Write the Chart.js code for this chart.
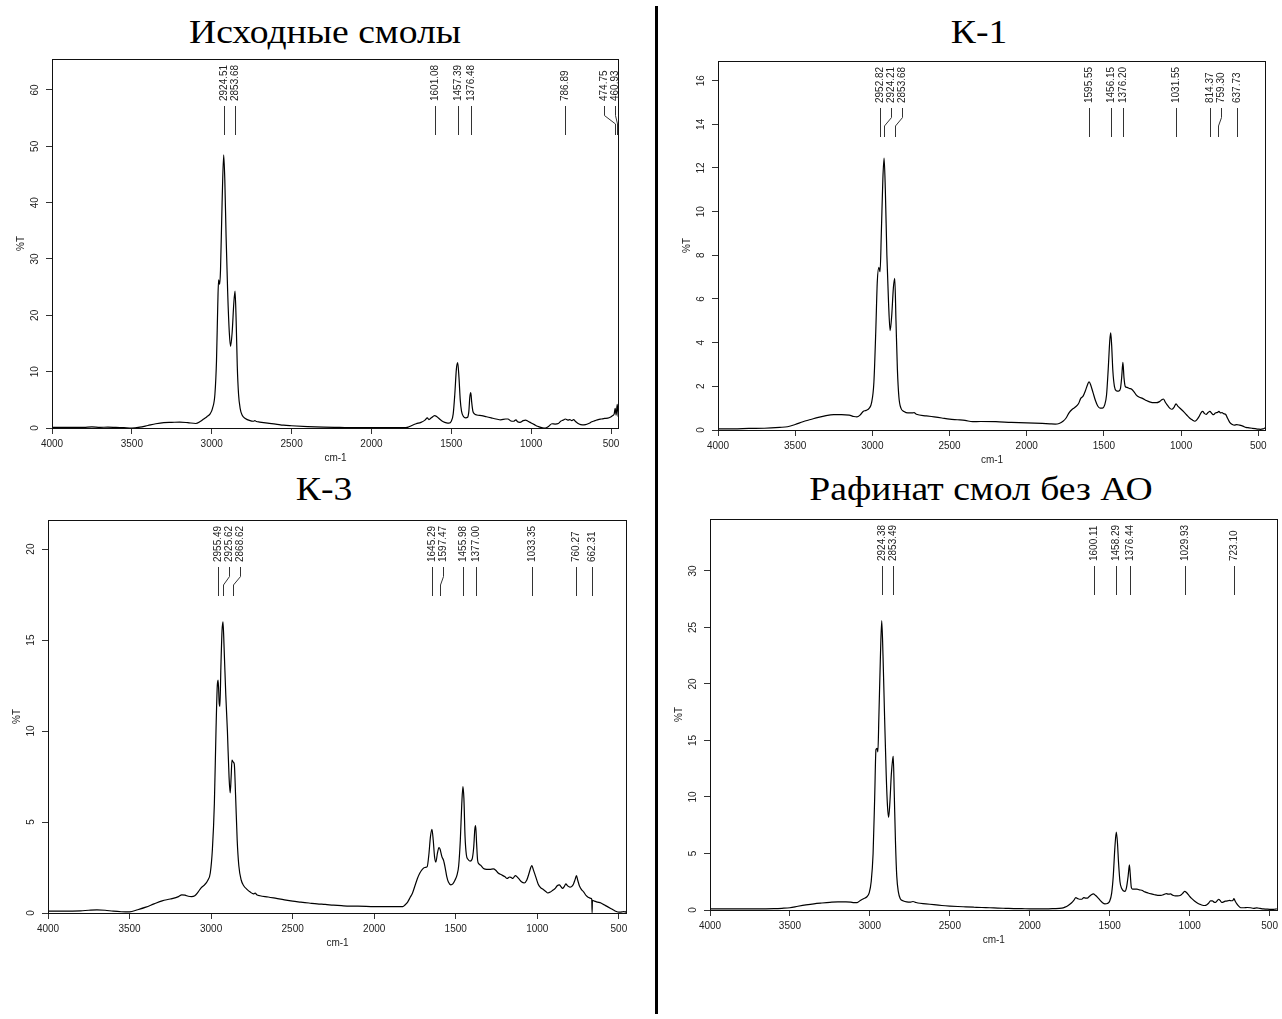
<!DOCTYPE html>
<html><head><meta charset="utf-8">
<script src="https://cdn.jsdelivr.net/npm/chart.js@4.4.1/dist/chart.umd.min.js"></script>
<style>
html,body{margin:0;padding:0;background:#fff;}
body{width:1282px;height:1019px;position:relative;overflow:hidden;}
.title{position:absolute;width:600px;text-align:center;font-family:'Liberation Serif','Times New Roman',serif;font-size:33px;line-height:33px;color:#000;white-space:nowrap;transform:scaleX(1.14);transform-origin:50% 50%;}
canvas{position:absolute;}
#divider{position:absolute;left:655px;top:6px;width:3px;height:1008px;background:#000;z-index:5;}
</style></head><body>
<div class="title" id="t1">Исходные смолы</div>
<div class="title" id="t2">К-1</div>
<div class="title" id="t3">К-3</div>
<div class="title" id="t4">Рафинат смол без АО</div>
<div id="divider"></div>
<canvas id="c1"></canvas><canvas id="c2"></canvas><canvas id="c3"></canvas><canvas id="c4"></canvas>
<script>
// ---------- DATA ----------
const xTicks = [4000, 3500, 3000, 2500, 2000, 1500, 1000, 500];

const yTicks1 = [0, 10, 20, 30, 40, 50, 60];
const yTicks2 = [0, 2, 4, 6, 8, 10, 12, 14, 16];
const yTicks3 = [0, 5, 10, 15, 20];
const yTicks4 = [0, 5, 10, 15, 20, 25, 30];

const titles = ['Исходные смолы', 'К-1', 'К-3', 'Рафинат смол без АО'];

const peaks1 = [2924.51, 2853.68, 1601.08, 1457.39, 1376.48, 786.89, 474.75, 460.93];
const peaks2 = [2952.82, 2924.21, 2853.68, 1595.55, 1456.15, 1376.20, 1031.55, 814.37, 759.30, 637.73];
const peaks3 = [2955.49, 2925.62, 2868.62, 1645.29, 1597.47, 1455.98, 1377.00, 1033.35, 760.27, 662.31];
const peaks4 = [2924.38, 2853.49, 1600.11, 1458.29, 1376.44, 1029.93, 723.10];

// Исходные смолы
const wn1 = [4000,3900,3800,3750,3700,3650,3600,3550,3500,3450,3400,3350,3300,3250,3200,3150,3100,3070,3050,3030,3010,2995,2980,2970,2962,2957,2950,2945,2935,2925,2918,2910,2900,2890,2882,2872,2862,2854,2847,2840,2832,2822,2810,2790,2760,2740,2730,2720,2700,2650,2600,2550,2500,2400,2300,2200,2100,2000,1900,1800,1770,1750,1720,1690,1665,1650,1640,1625,1605,1590,1570,1550,1530,1515,1500,1488,1478,1468,1460,1452,1444,1436,1425,1410,1398,1390,1384,1378,1372,1365,1355,1340,1310,1280,1250,1220,1190,1160,1145,1130,1110,1095,1085,1070,1050,1035,1020,1000,980,960,940,920,905,890,870,850,830,815,800,786,770,758,745,735,720,700,680,660,640,620,600,580,560,540,520,505,490,480,474,468,461,455];
const tr1 = [0.1,0.1,0.12,0.2,0.12,0.15,0.1,0.05,0.0,0.15,0.45,0.75,0.95,1.0,1.05,0.95,0.8,1.2,1.6,2.0,2.5,3.5,6,12,22,26.3,25.5,28,40,48.5,44,34,24,17,14.5,17,22,24.3,19,11,6,3.5,2.3,1.7,1.3,1.2,1.3,1.15,1.05,0.85,0.7,0.5,0.4,0.25,0.15,0.1,0.05,0.05,0.05,0.05,0.15,0.4,0.75,1.0,1.4,1.8,1.5,1.8,2.2,2.0,1.5,1.1,0.9,0.85,1.2,2.5,6,10.5,11.6,9,5,3,2.1,1.8,1.9,3,5.5,6.3,4.5,3,2.5,2.3,2.2,2.0,1.8,1.6,1.45,1.6,1.6,1.3,1.2,1.45,1.1,1.0,1.3,1.4,1.2,0.9,0.6,0.3,0.1,0.0,0.05,0.3,0.75,0.7,0.8,1.2,1.4,1.6,1.4,1.5,1.3,1.5,1.1,0.7,0.55,0.6,0.8,1.1,1.3,1.5,1.6,1.7,1.75,1.9,2.2,2.5,3.5,2.3,4.2,2.0];

// К-1
const wn2 = [4000,3900,3800,3700,3600,3550,3500,3450,3400,3350,3300,3250,3200,3150,3120,3100,3080,3060,3040,3020,3005,2990,2978,2968,2958,2950,2942,2932,2924,2916,2906,2895,2885,2875,2864,2855,2847,2838,2828,2815,2795,2770,2740,2730,2715,2650,2600,2550,2500,2450,2400,2350,2300,2200,2100,2000,1900,1850,1815,1790,1765,1745,1725,1705,1685,1665,1650,1635,1620,1605,1596,1585,1570,1555,1540,1525,1510,1495,1483,1472,1462,1456,1450,1442,1432,1420,1405,1393,1385,1377,1370,1362,1350,1335,1320,1305,1290,1270,1250,1225,1200,1180,1160,1140,1125,1115,1100,1085,1070,1060,1045,1033,1020,1000,985,965,945,925,912,900,885,870,860,848,838,825,814,800,790,778,765,755,745,735,725,712,700,685,668,655,640,620,600,580,560,540,520,500,485,470,460,455];
const tr2 = [0.05,0.05,0.07,0.08,0.12,0.15,0.25,0.38,0.48,0.58,0.66,0.7,0.7,0.68,0.62,0.6,0.68,0.85,0.9,1.0,1.25,2.2,4.5,6.8,7.45,7.25,9,11.5,12.45,11,8,5.8,4.55,5.2,6.5,6.95,5,2.8,1.5,1.0,0.85,0.78,0.78,0.8,0.72,0.65,0.6,0.55,0.5,0.47,0.44,0.38,0.39,0.38,0.35,0.33,0.3,0.28,0.27,0.3,0.4,0.55,0.8,0.95,1.05,1.2,1.45,1.55,1.8,2.1,2.2,2.05,1.7,1.35,1.1,1.0,1.0,1.15,1.6,2.8,4.1,4.45,3.9,2.7,2.0,1.8,1.78,1.9,2.4,3.1,2.4,2.0,1.95,1.9,1.87,1.75,1.6,1.5,1.45,1.35,1.28,1.25,1.25,1.3,1.38,1.42,1.25,1.1,0.98,0.95,1.05,1.2,1.08,0.95,0.85,0.7,0.55,0.45,0.4,0.45,0.6,0.8,0.85,0.75,0.72,0.8,0.85,0.75,0.7,0.78,0.8,0.85,0.78,0.8,0.75,0.72,0.55,0.35,0.25,0.22,0.25,0.22,0.18,0.12,0.1,0.08,0.06,0.04,0.03,0.05,0.08,0.1];

// К-3
const wn3 = [4000,3900,3800,3750,3700,3650,3600,3550,3500,3450,3400,3350,3300,3250,3200,3180,3160,3140,3120,3100,3080,3060,3040,3020,3005,2992,2980,2970,2962,2957,2950,2946,2940,2933,2927,2920,2910,2900,2890,2883,2877,2872,2865,2858,2850,2840,2830,2815,2800,2780,2760,2740,2730,2720,2700,2650,2600,2550,2500,2450,2400,2350,2300,2250,2200,2150,2100,2000,1900,1850,1825,1810,1795,1780,1765,1750,1735,1720,1705,1690,1675,1665,1655,1646,1638,1630,1622,1612,1603,1596,1585,1575,1565,1555,1545,1530,1518,1505,1492,1482,1472,1463,1456,1450,1443,1435,1425,1412,1400,1390,1383,1378,1372,1366,1358,1345,1330,1310,1290,1270,1255,1240,1220,1200,1185,1170,1160,1150,1135,1125,1110,1095,1080,1065,1050,1040,1033,1025,1010,995,980,965,950,935,920,905,890,878,865,855,845,835,825,815,800,790,778,768,760,752,742,730,715,700,685,672,666,664,662,650,630,610,590,570,550,530,515,500,480,470,460,455];
const tr3 = [0.1,0.1,0.12,0.15,0.17,0.15,0.1,0.07,0.06,0.18,0.32,0.5,0.67,0.77,0.9,1.0,0.98,0.92,0.9,0.95,1.15,1.4,1.55,1.8,2.2,3.5,6,10,12.5,12.8,11.5,11.35,13.5,15.5,16.0,14.5,12,10,7.5,6.6,7.5,8.4,8.3,8.2,6.5,4,2.6,1.8,1.5,1.3,1.15,1.05,1.1,1.0,0.95,0.88,0.8,0.72,0.65,0.6,0.55,0.5,0.47,0.43,0.4,0.38,0.38,0.35,0.35,0.35,0.35,0.45,0.6,0.85,1.1,1.5,1.9,2.2,2.4,2.5,2.55,3.2,4.2,4.6,4.0,3.1,2.8,3.3,3.6,3.5,3.1,2.9,2.5,2.0,1.7,1.55,1.6,1.8,2.1,2.6,4,6,6.95,6.3,4.2,3.2,2.95,2.85,2.95,3.6,4.6,4.8,3.8,2.9,2.7,2.6,2.45,2.4,2.4,2.42,2.35,2.2,2.1,2.0,1.9,1.98,1.95,1.9,2.05,2.0,1.85,1.7,1.65,1.8,2.2,2.5,2.6,2.4,2.0,1.6,1.4,1.3,1.2,1.1,1.15,1.25,1.35,1.5,1.55,1.45,1.35,1.45,1.6,1.5,1.42,1.45,1.6,1.85,2.05,1.8,1.5,1.3,1.15,0.95,0.85,0.8,0.75,0.02,0.7,0.65,0.6,0.55,0.45,0.35,0.25,0.15,0.08,0.05,0.06,0.08,0.05,0.1];

// Рафинат смол без АО
const wn4 = [4000,3900,3800,3700,3600,3550,3500,3450,3400,3350,3300,3250,3200,3150,3120,3100,3080,3060,3040,3020,3005,2992,2980,2970,2962,2955,2950,2944,2935,2926,2918,2908,2898,2890,2883,2875,2866,2858,2854,2848,2840,2832,2822,2810,2790,2770,2745,2730,2715,2700,2650,2600,2550,2500,2450,2400,2350,2300,2250,2200,2150,2100,2050,2000,1950,1900,1850,1800,1780,1760,1740,1725,1712,1700,1690,1675,1662,1650,1640,1628,1615,1602,1590,1575,1560,1545,1530,1515,1500,1488,1478,1468,1459,1452,1445,1436,1425,1415,1405,1395,1385,1377,1372,1365,1358,1345,1330,1315,1300,1280,1260,1240,1220,1200,1180,1160,1145,1135,1120,1105,1090,1075,1060,1045,1032,1020,1005,990,970,950,935,920,905,895,882,870,858,848,838,826,818,810,800,790,778,765,752,740,730,723,716,705,692,680,660,640,620,600,580,560,540,520,500,480,465,455];
const tr4 = [0.1,0.1,0.1,0.1,0.12,0.15,0.2,0.33,0.45,0.55,0.62,0.68,0.72,0.72,0.7,0.65,0.65,0.85,1.0,1.15,1.5,2.5,5,10,14.2,14.3,14.0,17,22,25.6,22.5,17,12,9.2,8.2,9.5,12,13.3,13.6,10.5,6,3,1.6,1.0,0.8,0.72,0.7,0.75,0.68,0.62,0.55,0.47,0.4,0.35,0.31,0.28,0.25,0.22,0.2,0.17,0.15,0.13,0.12,0.1,0.1,0.1,0.12,0.16,0.25,0.4,0.62,0.85,1.1,1.0,0.95,0.95,1.1,1.05,1.05,1.2,1.35,1.42,1.3,1.1,0.85,0.65,0.55,0.58,0.8,1.5,3,5.5,6.9,6.0,4.2,2.5,1.9,1.7,1.65,2.0,3.0,4.0,3.2,2.0,1.85,1.85,1.85,1.78,1.75,1.6,1.5,1.42,1.35,1.3,1.3,1.38,1.45,1.4,1.42,1.3,1.25,1.25,1.28,1.45,1.65,1.55,1.3,1.05,0.8,0.6,0.5,0.42,0.4,0.45,0.6,0.8,0.8,0.7,0.68,0.85,0.95,0.85,0.68,0.7,0.78,0.8,0.85,0.82,0.85,1.0,0.8,0.55,0.32,0.2,0.2,0.22,0.2,0.15,0.18,0.14,0.1,0.08,0.06,0.05,0.08,0.1];

// ---------- LAYOUT ----------
const FONT = '"Liberation Sans", Arial, sans-serif';
const panels = [
  {id:'c1', title:'t1', tcx:325, tbase:43, cv:{x:0,   y:50,  w:640, h:420}, area:{l:52,  t:59,  r:619,  b:428}, yMax:65.5, yTicks:yTicks1, wn:wn1, tr:tr1, peaks:peaks1},
  {id:'c2', title:'t2', tcx:979, tbase:43, cv:{x:640, y:50,  w:642, h:420}, area:{l:718, t:61,  r:1266, b:430}, yMax:16.9, yTicks:yTicks2, wn:wn2, tr:tr2, peaks:peaks2},
  {id:'c3', title:'t3', tcx:324, tbase:500,cv:{x:0,   y:510, w:640, h:460}, area:{l:48,  t:520, r:627,  b:913}, yMax:21.6, yTicks:yTicks3, wn:wn3, tr:tr3, peaks:peaks3},
  {id:'c4', title:'t4', tcx:981, tbase:500,cv:{x:640, y:510, w:642, h:460}, area:{l:710, t:519, r:1281, b:910}, yMax:34.6, yTicks:yTicks4, wn:wn4, tr:tr4, peaks:peaks4}
];

function boxPlugin() {
  return {id:'box', afterDraw(chart){
    const {ctx, chartArea:a} = chart;
    ctx.save(); ctx.strokeStyle='#111'; ctx.lineWidth=1;
    ctx.strokeRect(Math.round(a.left)+0.5, Math.round(a.top)+0.5, Math.round(a.right-a.left)-1, Math.round(a.bottom-a.top));
    ctx.restore();
  }};
}
function yLabelPlugin(ticks) {
  return {id:'ylab', afterDraw(chart){
    const {ctx, chartArea:a, scales:{y}} = chart;
    ctx.save(); ctx.font = '10px ' + FONT; ctx.fillStyle='#222';
    ctx.textAlign='center'; ctx.textBaseline='middle';
    ticks.forEach(v => {
      const py = y.getPixelForValue(v);
      ctx.save(); ctx.translate(a.left-17, py); ctx.rotate(-Math.PI/2); ctx.fillText(String(v), 0, 0); ctx.restore();
    });
    ctx.restore();
  }};
}
function peakPlugin(peaks) {
  return {id:'peaks', afterDatasetsDraw(chart){
    const {ctx, chartArea:a, scales:{x}} = chart;
    const px = peaks.map(p => x.getPixelForValue(p));
    const gap = 11, maxX = a.right - 4;
    const lx = px.slice();
    for (let i=1;i<lx.length;i++) lx[i] = Math.max(lx[i], lx[i-1]+gap);
    if (lx[lx.length-1] > maxX) lx[lx.length-1] = maxX;
    for (let i=lx.length-2;i>=0;i--) lx[i] = Math.min(lx[i], lx[i+1]-gap);
    const y1 = a.top + 47, y2 = a.top + 76, lb = a.top + 42;
    ctx.save();
    ctx.strokeStyle = '#333'; ctx.lineWidth = 1;
    ctx.font = '10px ' + FONT; ctx.fillStyle = '#222';
    peaks.forEach((p,i) => {
      const X = Math.round(lx[i])+0.5, P = Math.round(px[i])+0.5;
      ctx.beginPath();
      if (Math.abs(X-P) < 0.6) { ctx.moveTo(P,y1); ctx.lineTo(P,y2); }
      else {
        const h = (y2-y1);
        ctx.moveTo(X,y1); ctx.lineTo(X,y1+h*0.33); ctx.lineTo(P,y1+h*0.62); ctx.lineTo(P,y2);
      }
      ctx.stroke();
      ctx.save(); ctx.translate(X, lb); ctx.rotate(-Math.PI/2);
      ctx.textAlign='left'; ctx.textBaseline='middle';
      ctx.fillText(p.toFixed(2), 0, 0); ctx.restore();
    });
    ctx.restore();
  }};
}

panels.forEach(p => {
  const t = document.getElementById(p.title);
  t.style.left = (p.tcx - 300) + 'px';
  t.style.top = (p.tbase - 27) + 'px';
  const cv = document.getElementById(p.id);
  cv.width = p.cv.w; cv.height = p.cv.h;
  cv.style.left = p.cv.x + 'px'; cv.style.top = p.cv.y + 'px';
  cv.style.width = p.cv.w + 'px'; cv.style.height = p.cv.h + 'px';
  const W = p.area.l - p.cv.x;
  const H = p.cv.y + p.cv.h - p.area.b;
  new Chart(cv, {
    type: 'line',
    data: {datasets: [{
      data: p.wn.map((w,i) => ({x:w, y:p.tr[i]})),
      borderColor:'#000', borderWidth:1.2, pointRadius:0, fill:false,
      cubicInterpolationMode:'monotone'
    }]},
    options: {
      responsive:false, animation:false, events:[], devicePixelRatio:1,
      layout:{padding:{left:0, top:p.area.t - p.cv.y, right:p.cv.x + p.cv.w - p.area.r, bottom:0}},
      plugins:{legend:{display:false}, tooltip:{enabled:false}, title:{display:false}},
      scales:{
        x:{type:'linear', reverse:true, min:450, max:4000,
           afterBuildTicks: s => { s.ticks = xTicks.map(v => ({value:v})); },
           afterFit: s => { s.height = H; },
           grid:{drawOnChartArea:false, drawTicks:true, tickLength:6, color:'#333', lineWidth:1},
           border:{display:false},
           ticks:{autoSkip:false, maxRotation:0, minRotation:0, padding:4, color:'#222',
                  font:{family:FONT, size:10}, callback: v => String(v)},
           title:{display:true, text:'cm-1', color:'#222', font:{family:FONT, size:10}, padding:{top:0, bottom:H-36}}
        },
        y:{type:'linear', min:0, max:p.yMax,
           afterBuildTicks: s => { s.ticks = p.yTicks.map(v => ({value:v})); },
           afterFit: s => { s.width = W; },
           grid:{drawOnChartArea:false, drawTicks:true, tickLength:6, color:'#333', lineWidth:1},
           border:{display:false},
           ticks:{display:false},
           title:{display:true, text:'%T', color:'#222', font:{family:FONT, size:10}, padding:{top:W-37, bottom:0}}
        }
      }
    },
    plugins:[boxPlugin(), yLabelPlugin(p.yTicks), peakPlugin(p.peaks)]
  });
});
</script>
</body></html>
